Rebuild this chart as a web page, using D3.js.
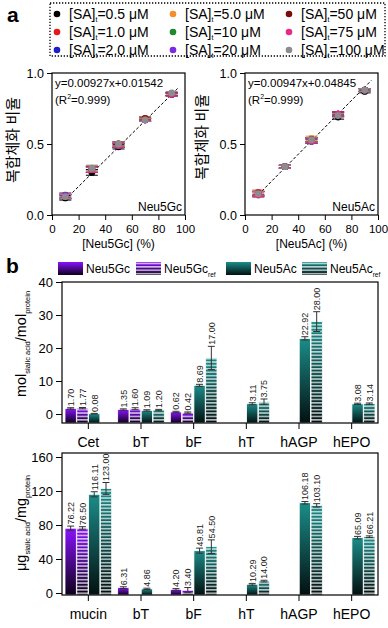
<!DOCTYPE html>
<html>
<head>
<meta charset="utf-8">
<script src="https://cdn.jsdelivr.net/npm/d3@7"></script>
<style>
  body { margin: 0; background: #fff; }
  svg { display: block; font-family: "Liberation Sans", Arial, sans-serif; }
</style>
</head>
<body>
<svg id="chart" width="388" height="628"></svg>
<script>
// ---- panel a data ----
var concLabels = ["0.5", "1.0", "2.0", "5.0", "10", "20", "50", "75", "100"];
var concColors = ["#000000", "#e41a1c", "#1f1fc8", "#f28e2b", "#1e8a2e", "#7b2be2", "#7a0c0c", "#e7298a", "#8c8c8c"];
var pctValues = [10, 30, 50, 70, 90];
var gcRatio = [
  [0.12, 0.30, 0.48, 0.67, 0.85],
  [0.13, 0.32, 0.50, 0.67, 0.85],
  [0.13, 0.32, 0.49, 0.67, 0.85],
  [0.14, 0.33, 0.50, 0.68, 0.85],
  [0.13, 0.32, 0.49, 0.67, 0.85],
  [0.14, 0.32, 0.49, 0.67, 0.85],
  [0.13, 0.32, 0.50, 0.68, 0.85],
  [0.13, 0.32, 0.49, 0.67, 0.85],
  [0.13, 0.33, 0.50, 0.67, 0.86]
];
var acRatio = [
  [0.15, 0.34, 0.52, 0.69, 0.87],
  [0.16, 0.34, 0.53, 0.71, 0.88],
  [0.15, 0.34, 0.52, 0.71, 0.88],
  [0.15, 0.34, 0.54, 0.71, 0.88],
  [0.15, 0.34, 0.53, 0.71, 0.88],
  [0.15, 0.34, 0.53, 0.71, 0.88],
  [0.15, 0.34, 0.53, 0.71, 0.88],
  [0.14, 0.34, 0.52, 0.71, 0.88],
  [0.15, 0.34, 0.53, 0.70, 0.88]
];
var gcRatioErr = [0.015, 0.02, 0.015, 0.01, 0.01];
var acRatioErr = [0.015, 0.01, 0.015, 0.015, 0.01];
var gcFit = [0.00927, 0.01542];
var acFit = [0.00947, 0.04845];

// ---- panel b data ----
var seriesNames = ["Neu5Gc", "Neu5Gc_ref", "Neu5Ac", "Neu5Ac_ref"];
var molCats = ["Cet", "bT", "bF", "hT", "hAGP", "hEPO"];
var molGc = [1.70, 1.35, 0.62, null, null, null];
var molGcRef = [1.77, 1.60, 0.42, null, null, null];
var molAc = [0.08, 1.09, 8.69, 3.11, 22.92, 3.08];
var molAcRef = [null, 1.20, 17.00, 3.75, 28.00, 3.14];
var molGcErr = [0.2, 0.2, 0.2, 0, 0, 0];
var molGcRefErr = [0.2, 0.3, 0.2, 0, 0, 0];
var molAcErr = [0.1, 0.2, 0.3, 0.3, 0.5, 0.2];
var molAcRefErr = [0, 0.2, 3.5, 0.8, 3.0, 0.2];

var ugCats = ["mucin", "bT", "bF", "hT", "hAGP", "hEPO"];
var ugGc = [76.22, 6.31, 4.20, null, null, null];
var ugGcRef = [76.50, null, 3.40, null, null, null];
var ugAc = [116.11, 4.86, 49.81, 10.29, 106.18, 65.09];
var ugAcRef = [123.00, null, 54.50, 14.00, 103.10, 66.21];
var ugGcErr = [2.5, 1.0, 1.0, 0, 0, 0];
var ugGcRefErr = [1.5, 0, 3.0, 0, 0, 0];
var ugAcErr = [3.0, 0.8, 3.0, 1.0, 1.5, 1.5];
var ugAcRefErr = [7.0, 0, 8.0, 1.0, 2.0, 1.0];

var svg = d3.select("#chart");
var defs = svg.append("defs");

function grad(id, top, bottom) {
  var g = defs.append("linearGradient").attr("id", id)
    .attr("x1", 0).attr("y1", 0).attr("x2", 0).attr("y2", 1);
  g.append("stop").attr("offset", "0%").attr("stop-color", top);
  g.append("stop").attr("offset", "100%").attr("stop-color", bottom);
}
grad("gGc", "#8a12ff", "#0d0018");
grad("gAc", "#1b8d89", "#031010");
var pat = defs.append("pattern").attr("id", "stripes")
  .attr("patternUnits", "userSpaceOnUse").attr("width", 6).attr("height", 3.4);
pat.append("rect").attr("width", 6).attr("height", 1.3).attr("y", 1).attr("fill", "#fff").attr("opacity", 0.85);

// ---- legend a ----
svg.append("text").attr("x", 7).attr("y", 22).attr("font-size", 21).attr("font-weight", "bold").text("a");
svg.append("rect").attr("x", 50).attr("y", 3).attr("width", 335).attr("height", 53)
  .attr("fill", "none").attr("stroke", "#000").attr("stroke-width", 1.3).attr("stroke-dasharray", "1.3,1.7");
concLabels.forEach(function(c, i) {
  var col = Math.floor(i / 3), row = i % 3;
  var lx = 57 + col * 116, ly = 14 + row * 18;
  svg.append("circle").attr("cx", lx).attr("cy", ly).attr("r", 3.3).attr("fill", concColors[i]);
  var t = svg.append("text").attr("x", lx + 12).attr("y", ly + 5).attr("font-size", 14);
  t.append("tspan").text("[SA]");
  t.append("tspan").attr("font-size", 7).attr("dy", 3).text("t");
  t.append("tspan").attr("dy", -3).text("=" + c + " \u03bcM");
});

// ---- scatter panels ----
function scatterPanel(x0, x1, data, errs, fit, name, xlab) {
  var x = d3.scaleLinear().domain([0, 100]).range([x0, x1]);
  var y = d3.scaleLinear().domain([0, 1]).range([215, 73]);
  var g = svg.append("g");
  g.append("rect").attr("x", x0).attr("y", 73).attr("width", x1 - x0).attr("height", 142)
    .attr("fill", "none").attr("stroke", "#000").attr("stroke-width", 1.2);
  g.append("g").attr("transform", "translate(0,215)")
    .call(d3.axisBottom(x).tickValues([0, 20, 40, 60, 80, 100]).tickSize(5).tickSizeOuter(0))
    .call(function(a) {
      a.select(".domain").remove();
      a.selectAll("text").attr("font-size", 11.5).attr("y", 9).attr("dy", "0.75em").attr("font-family", "inherit");
    });
  g.append("g").attr("transform", "translate(" + x0 + ",0)")
    .call(d3.axisLeft(y).tickValues([0, 0.5, 1]).tickFormat(d3.format(".1f")).tickSize(5).tickSizeOuter(0))
    .call(function(a) {
      a.select(".domain").remove();
      a.selectAll("text").attr("font-size", 12.5).attr("font-family", "inherit");
    });
  // fit line
  g.append("line")
    .attr("x1", x(10)).attr("y1", y(fit[0] * 10 + fit[1]))
    .attr("x2", x(95)).attr("y2", y(fit[0] * 95 + fit[1]))
    .attr("stroke", "#000").attr("stroke-width", 1).attr("stroke-dasharray", "3,2");
  data.forEach(function(series, si) {
    var sg = g.append("g").attr("stroke", concColors[si]).attr("fill", concColors[si]);
    series.forEach(function(v, j) {
      var cx = x(pctValues[j]), e = errs[j];
      sg.append("line").attr("x1", cx).attr("x2", cx).attr("y1", y(v - e)).attr("y2", y(v + e)).attr("stroke-width", 1);
      [v - e, v + e].forEach(function(w) {
        sg.append("line").attr("x1", cx - 6).attr("x2", cx + 6).attr("y1", y(w)).attr("y2", y(w)).attr("stroke-width", 1);
      });
      sg.append("circle").attr("cx", cx).attr("cy", y(v)).attr("r", 3.4).attr("stroke", "none");
    });
  });
  g.append("text").attr("x", x0 + 3).attr("y", 87).attr("font-size", 11.5)
    .text("y=" + fit[0] + "x+" + fit[1]);
  var r = g.append("text").attr("x", x0 + 3).attr("y", 104).attr("font-size", 11.5);
  r.append("tspan").text("(R");
  r.append("tspan").attr("font-size", 7).attr("dy", -5).text("2");
  r.append("tspan").attr("dy", 5).text("=0.999)");
  g.append("text").attr("x", x1 - 3).attr("y", 211).attr("text-anchor", "end").attr("font-size", 12).text(name);
  g.append("text").attr("x", (x0 + x1) / 2).attr("y", 248).attr("text-anchor", "middle").attr("font-size", 12).text(xlab);
}
scatterPanel(52, 185, gcRatio, gcRatioErr, gcFit, "Neu5Gc", "[Neu5Gc] (%)");
scatterPanel(245, 378, acRatio, acRatioErr, acFit, "Neu5Ac", "[Neu5Ac] (%)");
[[18, 140], [207, 137]].forEach(function(p) {
  svg.append("text").attr("transform", "translate(" + p[0] + "," + p[1] + ") rotate(-90)")
    .attr("text-anchor", "middle").attr("font-size", 15)
    .attr("font-family", "'Noto Sans CJK KR', sans-serif").text("복합체화 비율");
});

// ---- legend b ----
svg.append("text").attr("x", 6).attr("y", 273).attr("font-size", 21).attr("font-weight", "bold").text("b");
var legX = [58, 136, 226, 302];
seriesNames.forEach(function(s, i) {
  var gid = i < 2 ? "url(#gGc)" : "url(#gAc)";
  svg.append("rect").attr("x", legX[i]).attr("y", 262).attr("width", 25).attr("height", 13).attr("fill", gid);
  if (i % 2 === 1) {
    svg.append("rect").attr("x", legX[i]).attr("y", 262).attr("width", 25).attr("height", 13).attr("fill", "url(#stripes)");
  }
  var t = svg.append("text").attr("x", legX[i] + 28).attr("y", 273).attr("font-size", 12);
  var parts = s.split("_");
  t.append("tspan").text(parts[0]);
  if (parts[1]) t.append("tspan").attr("font-size", 6.5).attr("dy", 4).text(parts[1]);
});

// ---- bar panels ----
function barPanel(cats, vals, errs, frameTop, yMaxPx, yZero, yBottom, yMax, ticks, ylabel, ylabelY) {
  var x = d3.scaleBand().domain(cats).range([62, 378]);
  var x1 = d3.scaleBand().domain(seriesNames).range([3, x.bandwidth() - 3]).paddingInner(0.04);
  var y = d3.scaleLinear().domain([0, yMax]).range([yZero, yMaxPx]);
  var g = svg.append("g");
  cats.forEach(function(c, ci) {
    seriesNames.forEach(function(s, si) {
      var v = vals[si][ci];
      if (v == null) return;
      var bx = x(c) + x1(s), bw = x1.bandwidth();
      var fill = si < 2 ? "url(#gGc)" : "url(#gAc)";
      g.append("rect").attr("x", bx).attr("y", y(v)).attr("width", bw).attr("height", yBottom - y(v))
        .attr("fill", fill).attr("stroke", "#fff").attr("stroke-width", 0.8);
      if (si % 2 === 1) {
        g.append("rect").attr("x", bx).attr("y", y(v)).attr("width", bw).attr("height", yBottom - y(v))
          .attr("fill", "url(#stripes)");
      }
      var e = errs[si][ci], cx = bx + bw / 2;
      if (e > 0) {
        g.append("line").attr("x1", cx).attr("x2", cx).attr("y1", y(v - e)).attr("y2", y(v + e)).attr("stroke", "#333").attr("stroke-width", 1);
        [v - e, v + e].forEach(function(w) {
          g.append("line").attr("x1", cx - 3.5).attr("x2", cx + 3.5).attr("y1", y(w)).attr("y2", y(w)).attr("stroke", "#333").attr("stroke-width", 1);
        });
      }
      g.append("text").attr("transform", "translate(" + (cx + 3.3) + "," + (y(v + e) - 1.5) + ") rotate(-90)")
        .attr("font-size", 9).attr("fill", "#222").text(d3.format(".2f")(v));
    });
  });
  g.append("rect").attr("x", 62).attr("y", frameTop).attr("width", 316).attr("height", yBottom - frameTop)
    .attr("fill", "none").attr("stroke", "#000").attr("stroke-width", 1.2);
  g.append("g").attr("transform", "translate(0," + yBottom + ")")
    .call(d3.axisBottom(x).tickSize(6).tickSizeOuter(0))
    .call(function(a) {
      a.select(".domain").remove();
      a.selectAll("text").attr("font-size", 14).attr("dy", "1.05em").attr("font-family", "inherit");
    });
  g.append("g").attr("transform", "translate(62,0)")
    .call(d3.axisLeft(y).tickValues(ticks).tickSize(6).tickSizeOuter(0))
    .call(function(a) {
      a.select(".domain").remove();
      a.selectAll("text").attr("font-size", 13).attr("font-family", "inherit");
    });
  var t = svg.append("text").attr("transform", "translate(26," + ylabelY + ") rotate(-90)")
    .attr("text-anchor", "middle").attr("font-size", 14.5);
  t.append("tspan").text(ylabel[0]);
  t.append("tspan").attr("font-size", 7.5).attr("dy", 3.5).text(ylabel[1]);
  t.append("tspan").attr("dy", -3.5).text(ylabel[2]);
  t.append("tspan").attr("font-size", 7.5).attr("dy", 3.5).text(ylabel[3]);
}
barPanel(molCats, [molGc, molGcRef, molAc, molAcRef], [molGcErr, molGcRefErr, molAcErr, molAcRefErr],
  282, 282, 414, 423, 40, [0, 10, 20, 30, 40], ["mol", "sialic acid", "/mol", "protein"], 344);
barPanel(ugCats, [ugGc, ugGcRef, ugAc, ugAcRef], [ugGcErr, ugGcRefErr, ugAcErr, ugAcRefErr],
  453, 457, 593, 595, 160, [0, 40, 80, 120, 160], ["\u03bcg", "sialic acid", "/mg", "protein"], 523);
</script>
</body>
</html>
